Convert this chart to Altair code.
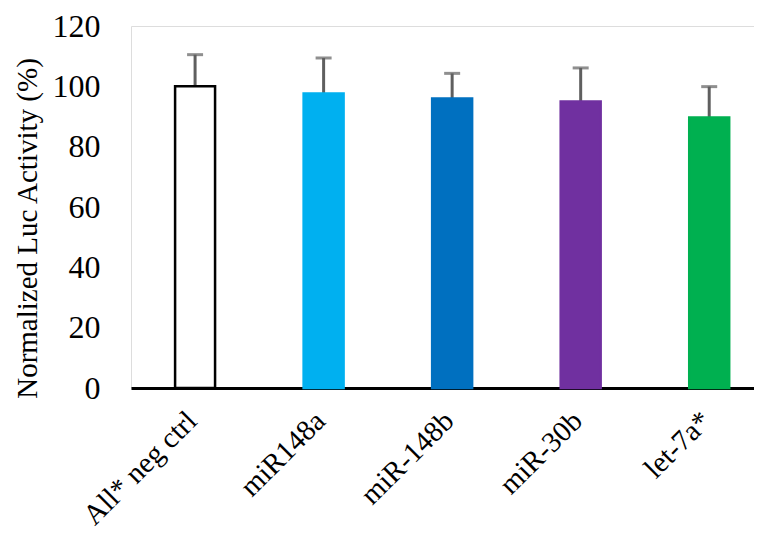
import altair as alt
import pandas as pd

categories = ["All* neg ctrl", "miR148a", "miR-148b", "miR-30b", "let-7a*"]
values = [100.0, 97.6, 96.0, 95.0, 89.7]
errors = [10.5, 11.8, 8.3, 11.1, 10.2]
fills = ["#FFFFFF", "#00B0F0", "#0070C0", "#7030A0", "#00B050"]
strokes = ["#000000", "#00B0F0", "#0070C0", "#7030A0", "#00B050"]

df = pd.DataFrame({
    "cat": categories,
    "val": values,
    "top": [v + e for v, e in zip(values, errors)],
    "fill": fills,
    "stroke": strokes,
})

FONT = "Liberation Serif"

xscale = alt.Scale(domain=categories, paddingInner=0.689, paddingOuter=0.268, align=0.64)
yscale = alt.Scale(domain=[0, 120], nice=False)

x = alt.X("cat:N", scale=xscale, sort=categories, title=None,
          axis=alt.Axis(labelAngle=-45, labelAlign="right", labelBaseline="middle",
                        labelFont=FONT, labelFontSize=29, labelColor="#000000",
                        labelPadding=28, labelOffset=-3, ticks=False, domainColor="#000000",
                        domainWidth=3, labelLimit=400))
y = alt.Y("val:Q", scale=yscale,
          axis=alt.Axis(values=[0, 20, 40, 60, 80, 100, 120], grid=False, domain=False,
                        ticks=False, labelFont=FONT, labelFontSize=32, labelColor="#000000",
                        labelPadding=31, title="Normalized Luc Activity (%)",
                        titleFont=FONT, titleFontSize=29, titleFontWeight="normal",
                        titleColor="#000000", titlePadding=10, titleY=202))

bars = alt.Chart(df).mark_bar(strokeWidth=2.5).encode(
    x=x, y=y,
    fill=alt.Fill("fill:N", scale=None),
    stroke=alt.Stroke("stroke:N", scale=None),
)

err = alt.Chart(df).mark_rule(color="#5f5f5f", strokeWidth=3).encode(
    x=alt.X("cat:N", scale=xscale, sort=categories),
    y=alt.Y("val:Q", scale=yscale),
    y2="top:Q",
)
caps = alt.Chart(df).mark_tick(color="#5f5f5f", thickness=3, size=16, orient="horizontal").encode(
    x=alt.X("cat:N", scale=xscale, sort=categories),
    y=alt.Y("top:Q", scale=yscale),
)

chart = alt.layer(err, bars, caps).properties(
    width=623, height=362,
    autosize=alt.AutoSizeParams(type="none"),
    padding={"left": 123, "top": 18, "right": 0, "bottom": 144},
).configure_view(stroke=None).configure(background="#FFFFFF")

chart.save("out.html", embed_options={"renderer": "svg", "actions": False})
